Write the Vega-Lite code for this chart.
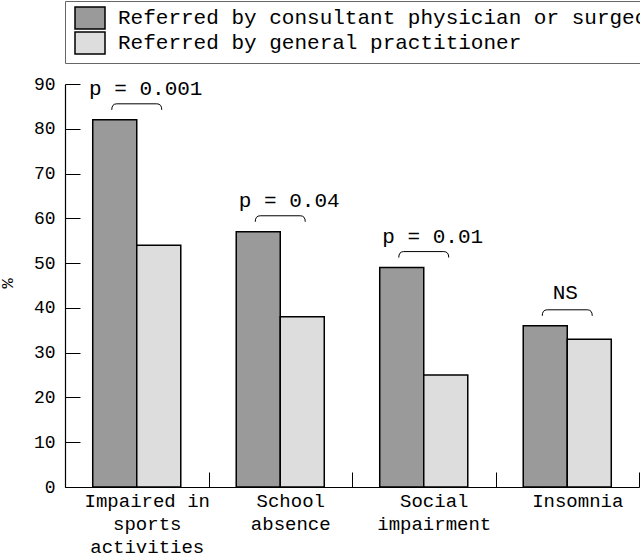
{
  "$schema": "https://vega.github.io/schema/vega-lite/v6.json",
  "width": 574,
  "height": 403,
  "autosize": {"type": "none"},
  "padding": {"left": 65, "top": 84, "right": 1, "bottom": 68},
  "background": "white",
  "config": {
    "view": {"stroke": null},
    "font": "Liberation Mono"
  },
  "data": {
    "values": [
      {"category": "Impaired in\nsports\nactivities", "group": "Referred by consultant physician or surgeon", "value": 82, "test": "p = 0.001"},
      {"category": "Impaired in\nsports\nactivities", "group": "Referred by general practitioner", "value": 54, "test": "p = 0.001"},
      {"category": "School\nabsence", "group": "Referred by consultant physician or surgeon", "value": 57, "test": "p = 0.04"},
      {"category": "School\nabsence", "group": "Referred by general practitioner", "value": 38, "test": "p = 0.04"},
      {"category": "Social\nimpairment", "group": "Referred by consultant physician or surgeon", "value": 49, "test": "p = 0.01"},
      {"category": "Social\nimpairment", "group": "Referred by general practitioner", "value": 25, "test": "p = 0.01"},
      {"category": "Insomnia", "group": "Referred by consultant physician or surgeon", "value": 36, "test": "NS"},
      {"category": "Insomnia", "group": "Referred by general practitioner", "value": 33, "test": "NS"}
    ]
  },
  "encoding": {
    "x": {
      "field": "category",
      "type": "nominal",
      "sort": null,
      "scale": {"paddingInner": 0, "paddingOuter": 0},
      "axis": {
        "title": null,
        "labelAngle": 0,
        "labelExpr": "split(datum.label, '\\n')",
        "labelFont": "Liberation Mono",
        "labelFontSize": 19,
        "labelColor": "black",
        "labelLineHeight": 23,
        "labelPadding": 19,
        "labelOffset": 10,
        "labelLimit": 0,
        "tickBand": "extent",
        "tickSize": -15,
        "tickColor": "black",
        "tickWidth": 1,
        "domainColor": "black",
        "domainWidth": 1.2
      }
    },
    "y": {
      "field": "value",
      "type": "quantitative",
      "scale": {"domain": [0, 90], "nice": false},
      "axis": {
        "title": "%",
        "titleFont": "Liberation Mono",
        "titleFontSize": 17,
        "titleFontWeight": "normal",
        "titleColor": "black",
        "titleX": -49,
        "titleY": 199,
        "values": [0, 10, 20, 30, 40, 50, 60, 70, 80, 90],
        "grid": false,
        "labelFont": "Liberation Mono",
        "labelFontSize": 18,
        "labelColor": "black",
        "labelPadding": 25,
        "tickSize": -15,
        "tickColor": "black",
        "tickWidth": 1,
        "domainColor": "black",
        "domainWidth": 1.2
      }
    }
  },
  "layer": [
    {
      "mark": {"type": "bar", "stroke": "black", "strokeWidth": 1.5},
      "encoding": {
        "xOffset": {
          "field": "group",
          "type": "nominal",
          "sort": ["Referred by consultant physician or surgeon", "Referred by general practitioner"],
          "scale": {"paddingInner": 0, "paddingOuter": 0.63}
        },
        "fill": {
          "field": "group",
          "type": "nominal",
          "scale": {
            "domain": ["Referred by consultant physician or surgeon", "Referred by general practitioner"],
            "range": ["#9a9a9a", "#dddddd"]
          },
          "legend": {
            "title": null,
            "orient": "none",
            "legendX": 0,
            "legendY": -83,
            "strokeColor": "#666666",
            "fillColor": "white",
            "padding": 6,
            "symbolType": "M -1.5 -1.1 H 1.5 V 1.1 H -1.5 Z",
            "symbolSize": 400,
            "symbolStrokeColor": "black",
            "symbolStrokeWidth": 1.5,
            "symbolOffset": 8,
            "labelFont": "Liberation Mono",
            "labelFontSize": 21,
            "labelColor": "black",
            "labelOffset": 17,
            "labelLimit": 1000,
            "rowPadding": -3
          }
        }
      }
    },
    {
      "transform": [
        {"filter": "datum.group == 'Referred by consultant physician or surgeon'"}
      ],
      "mark": {
        "type": "point",
        "shape": "M -1 -0.4 Q -1 -0.64 -0.8 -0.64 L 0.8 -0.64 Q 1 -0.64 1 -0.4",
        "size": 2500,
        "filled": false,
        "stroke": "black",
        "strokeWidth": 1,
        "opacity": 1
      },
      "encoding": {}
    },
    {
      "transform": [
        {"filter": "datum.group == 'Referred by consultant physician or surgeon' && datum.test != 'NS'"}
      ],
      "mark": {
        "type": "text",
        "font": "Liberation Mono",
        "fontSize": 21,
        "color": "black",
        "align": "center",
        "baseline": "alphabetic",
        "dx": 9,
        "dy": -25
      },
      "encoding": {"text": {"field": "test"}}
    },
    {
      "transform": [
        {"filter": "datum.group == 'Referred by consultant physician or surgeon' && datum.test == 'NS'"}
      ],
      "mark": {
        "type": "text",
        "font": "Liberation Mono",
        "fontSize": 21,
        "color": "black",
        "align": "center",
        "baseline": "alphabetic",
        "dx": -2,
        "dy": -27
      },
      "encoding": {"text": {"field": "test"}}
    }
  ]
}
